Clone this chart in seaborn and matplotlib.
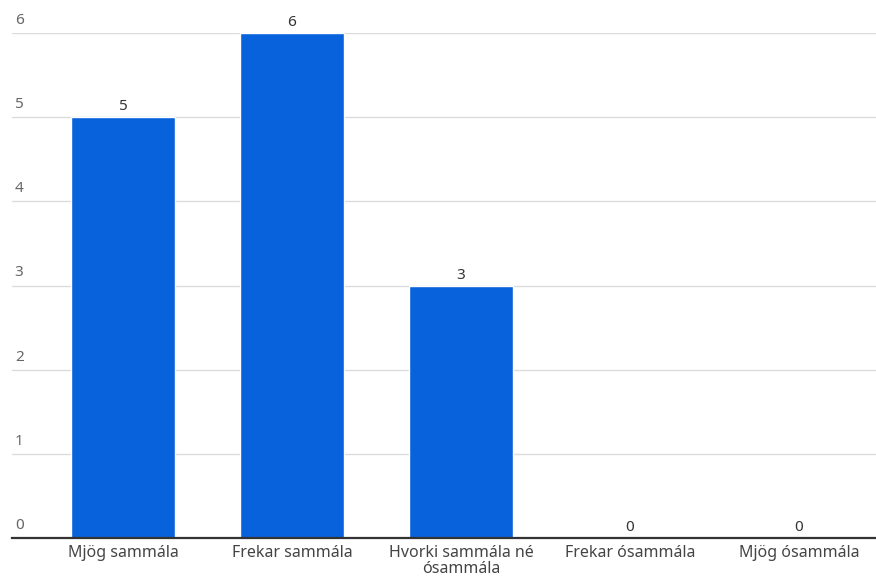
import matplotlib
matplotlib.use("Agg")
import matplotlib.pyplot as plt
import matplotlib.transforms as mtransforms
import seaborn as sns
import pandas as pd

categories = ["Mjög sammála", "Frekar sammála", "Hvorki sammála né ósammála",
              "Frekar ósammála", "Mjög ósammála"]
counts = [5, 6, 3, 0, 0]
y_ticks = [0, 1, 2, 3, 4, 5, 6]
tick_labels = ["Mjög sammála", "Frekar sammála", "Hvorki sammála né\nósammála",
               "Frekar ósammála", "Mjög ósammála"]

sns.set_theme(style="white")
plt.rcParams['font.family'] = ['Noto Sans', 'DejaVu Sans']

df = pd.DataFrame({"cat": categories, "n": counts})

fig = plt.figure(figsize=(8.76, 5.84), dpi=100)
ax = fig.add_axes([12/876, 46/584, (876-12)/876, (538-33)/584])

sns.barplot(data=df, x="cat", y="n", color="#0862DC", saturation=1,
            width=0.615, ax=ax, zorder=3)

ax.set_xlim(-0.657, 4.456)
ax.set_ylim(0, 6)
ax.set_yticks(y_ticks)
ax.set_yticklabels([str(v) for v in y_ticks])
ax.yaxis.grid(True, color="#dcdcdc", linewidth=1, zorder=0)
ax.set_axisbelow(True)
for s in ["top", "right", "left"]:
    ax.spines[s].set_visible(False)
ax.spines["bottom"].set_color("#333333")
ax.spines["bottom"].set_linewidth(1.6)
ax.spines["bottom"].set_zorder(5)

ax.tick_params(axis="y", length=0, pad=-2, labelsize=11, labelcolor="#666666")
offset = mtransforms.ScaledTranslation(0, 5/100, fig.dpi_scale_trans)
for lab in ax.get_yticklabels():
    lab.set_horizontalalignment("left")
    lab.set_verticalalignment("bottom")
    lab.set_transform(lab.get_transform() + offset)

ax.set_xticks(range(len(categories)))
ax.set_xticklabels(tick_labels, fontsize=11.5, color="#444444", linespacing=1.0)
ax.tick_params(axis="x", length=0, pad=5)
ax.set_xlabel("")
ax.set_ylabel("")

for c in ax.containers:
    ax.bar_label(c, labels=[str(v) for v in counts], padding=2,
                 fontsize=11, color="#333333")

fig.savefig("out.png", dpi=100)
